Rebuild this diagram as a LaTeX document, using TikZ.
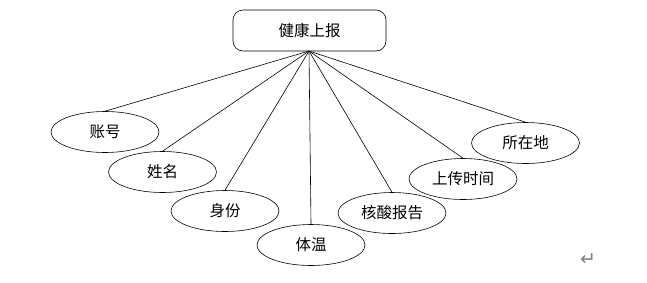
\documentclass[tikz,border=0pt]{standalone}
\usepackage{fontspec}
\newfontfamily\cjk{Noto Sans CJK SC}
\newfontfamily\sym{DejaVu Sans}
\usetikzlibrary{shapes.geometric}
\begin{document}
\begin{tikzpicture}[x=1pt,y=-1pt,
  attr/.style={draw, ellipse, line width=0.6pt, minimum width=108pt, minimum height=41pt, inner sep=0pt, font=\cjk\fontsize{15.5}{15.5}\selectfont},
  root/.style={draw, rounded corners=10pt, line width=0.6pt, minimum width=153pt, minimum height=41pt, inner sep=0pt, font=\cjk\fontsize{15.5}{15.5}\selectfont},
  link/.style={line width=0.6pt}]
\useasboundingbox (0,0) rectangle (647,282);
\node[root] (r) at (309.5,30.5) {健康上报};
\coordinate (hub) at (309,51);
\node[attr] (a1) at (105,132) {账号};
\node[attr] (a2) at (162.5,172) {姓名};
\node[attr] (a3) at (225,211) {身份};
\node[attr] (a4) at (311,245) {体温};
\node[attr] (a5) at (392,213) {核酸报告};
\node[attr] (a6) at (463,179) {上传时间};
\node[attr] (a7) at (525.5,143) {所在地};
\foreach \n in {a1,a2,a3,a4,a5,a6,a7} \draw[link] (hub) -- (\n.north);
\node[text=black!50, font=\sym\fontsize{19}{19}\selectfont, inner sep=0pt] (ret) at (588,260) {↵};
\end{tikzpicture}
\end{document}
